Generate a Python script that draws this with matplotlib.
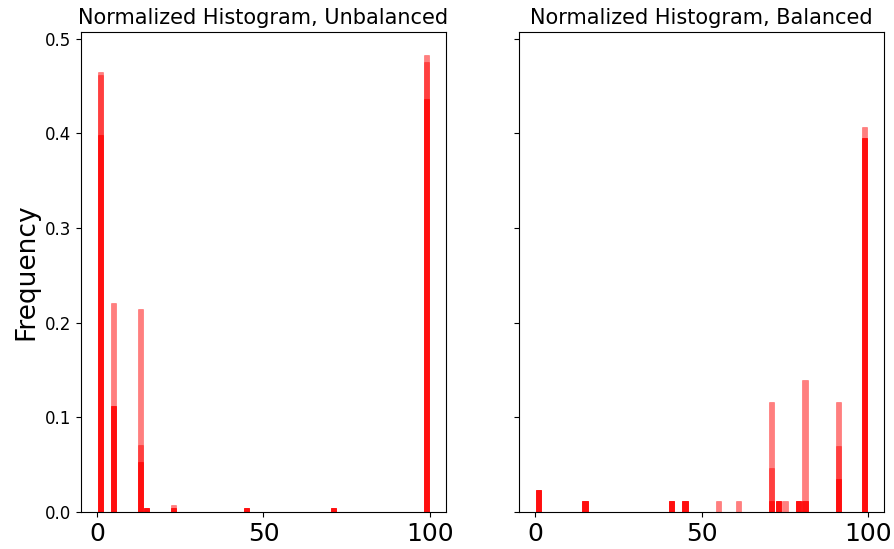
import matplotlib
matplotlib.use("Agg")
import matplotlib.pyplot as plt
import numpy as np

# bins of width 2 over 0..100
edges = np.arange(0, 101, 2)

# unbalanced: bin left edges that hold data, and heights for each overlaid layer
unb_bins = [0, 4, 12, 14, 22, 44, 70, 98]
unb_layer1 = [0.465, 0.221, 0.215, 0.004, 0.0075, 0.004, 0.004, 0.483]
unb_layer2 = [0.462, 0.112, 0.0705, 0.004, 0.004, 0.004, 0.004, 0.475]
unb_layer3 = [0.398, 0.112, 0.0526, 0.004, 0.004, 0.004, 0.004, 0.436]
unb_layer4 = [0.398, 0.112, 0.0526, 0.004, 0.004, 0.004, 0.004, 0.436]

# balanced
bal_bins = [0, 14, 40, 44, 54, 60, 70, 72, 74, 78, 80, 90, 98]
bal_layer1 = [0.0232, 0.0116, 0.0116, 0.0116, 0.0116, 0.0116, 0.1163, 0.0116, 0.0116, 0.0116, 0.1395, 0.1163, 0.407]
bal_layer2 = [0.0232, 0.0116, 0.0116, 0.0116, 0, 0, 0.0465, 0.0116, 0, 0.0116, 0.0116, 0.0698, 0.395]
bal_layer3 = [0.0232, 0.0116, 0.0116, 0.0116, 0, 0, 0.0116, 0.0116, 0, 0.0116, 0.0116, 0.0349, 0.395]
bal_layer4 = [0.0232, 0.0116, 0.0116, 0.0116, 0, 0, 0.0116, 0.0116, 0, 0.0116, 0.0116, 0.0349, 0.395]

fig = plt.figure(figsize=(8.95, 5.49), dpi=100)
ax1 = fig.add_axes([0.0905, 0.0674, 0.4078, 0.8743])
ax2 = fig.add_axes([0.580, 0.0674, 0.4078, 0.8743], sharey=ax1)

def draw(ax, bins, layers, title):
    x = np.array(bins) + 1.0
    for h in layers:
        ax.hist(x, bins=edges, weights=h, rwidth=0.78, color="red",
                edgecolor="red", linewidth=0.4, alpha=0.5)
    ax.set_title(title, fontsize=15)
    ax.set_xticks([0, 50, 100])
    ax.tick_params(axis="x", labelsize=18)
    ax.tick_params(axis="y", labelsize=12)

draw(ax1, unb_bins, [unb_layer1, unb_layer2, unb_layer3, unb_layer4],
     "Normalized Histogram, Unbalanced")
draw(ax2, bal_bins, [bal_layer1, bal_layer2, bal_layer3, bal_layer4],
     "Normalized Histogram, Balanced")

ax1.set_ylabel("Frequency", fontsize=19)
ax1.set_yticks([0.0, 0.1, 0.2, 0.3, 0.4, 0.5])
plt.setp(ax2.get_yticklabels(), visible=False)

fig.savefig("out.png", dpi=100)
